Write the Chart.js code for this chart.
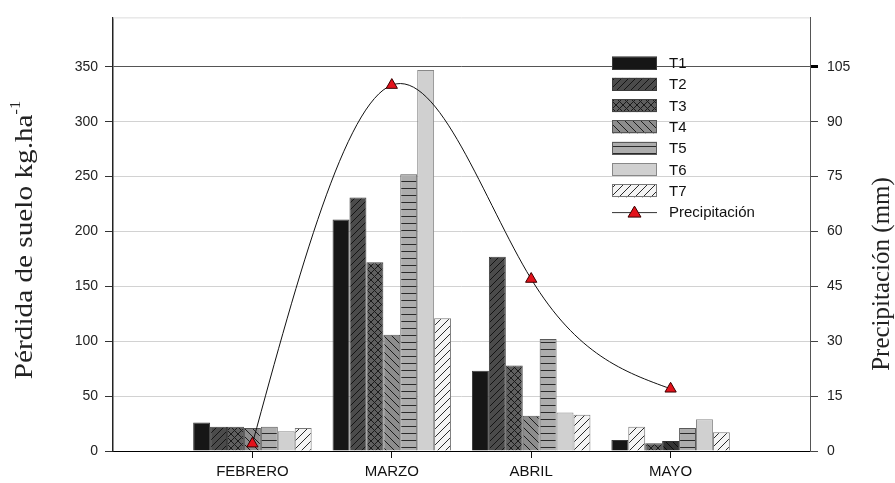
<!DOCTYPE html>
<html><head><meta charset="utf-8">
<script src="https://cdn.jsdelivr.net/npm/chart.js@4.4.1/dist/chart.umd.min.js"></script>
<style>html,body{margin:0;padding:0;background:#fff;}canvas{display:block;}</style>
</head><body>
<canvas id="c" width="895" height="483"></canvas>
<script>
// ---- data ----
const categories = ['', 'FEBRERO', 'MARZO', 'ABRIL', 'MAYO', ''];
const T1 = [null, 26, 211, 73, 10, null];
const T2 = [null, 22, 231, 177, 22, null];
const T3 = [null, 22, 172, 78, 7, null];
const T4 = [null, 21, 106, 32, 9, null];
const T5 = [null, 22, 252, 102, 21, null];
const T6 = [null, 18, 347, 35, 29, null];
const T7 = [null, 21, 121, 33, 17, null];
const precipitacion = [null, 2, 100, 47, 17, null];
const seriesNames = ['T1', 'T2', 'T3', 'T4', 'T5', 'T6', 'T7'];
const lineName = 'Precipitación';
const leftTicks = [0, 50, 100, 150, 200, 250, 300, 350];
const rightTicks = [0, 15, 30, 45, 60, 75, 90, 105];
const leftMax = 395, rightMax = 118.5;
const leftTitle = 'Pérdida de suelo kg.ha';
const leftTitleSup = '-1';
const rightTitle = 'Precipitación (mm)';

// ---- styles ----
const canvas = document.getElementById('c');
const ctx = canvas.getContext('2d');
function pattern(bg, kind, fg, s, lw) {
  const c = document.createElement('canvas'); c.width = s; c.height = s;
  const g = c.getContext('2d');
  g.fillStyle = bg; g.fillRect(0, 0, s, s);
  g.strokeStyle = fg; g.lineWidth = lw || 1;
  g.beginPath();
  if (kind === '/' || kind === 'x') {
    g.moveTo(-1, s + 1); g.lineTo(s + 1, -1);
    g.moveTo(-1, 1); g.lineTo(1, -1);
    g.moveTo(s - 1, s + 1); g.lineTo(s + 1, s - 1);
  }
  if (kind === '\\' || kind === 'x') {
    g.moveTo(-1, -1); g.lineTo(s + 1, s + 1);
    g.moveTo(s - 1, -1); g.lineTo(s + 1, 1);
    g.moveTo(-1, s - 1); g.lineTo(1, s + 1);
  }
  if (kind === '-') { g.moveTo(0, s - 0.5); g.lineTo(s, s - 0.5); }
  g.stroke();
  return ctx.createPattern(c, 'repeat');
}
const fills = [
  '#161616',
  pattern('#4b4b4b', '/', '#141414', 7),
  pattern('#5f5f5f', 'x', '#1a1a1a', 7),
  pattern('#8d8d8d', '\\', '#1c1c1c', 8),
  pattern('#adadad', '-', '#2a2a2a', 7),
  '#d0d0d0',
  pattern('#f4f4f4', '/', '#2a2a2a', 8)
];
const borders = ['#3a3a3a', '#3c3c3c', '#444', '#555', '#5a5a5a', '#888', '#777'];
const mayoOverride = { 1: [fills[6], borders[6]], 3: [pattern('#333', '\\', '#0c0c0c', 7), '#333'] };
const seriesData = [T1, T2, T3, T4, T5, T6, T7];

const datasets = seriesData.map((d, i) => ({
  type: 'bar', label: seriesNames[i], data: d, yAxisID: 'y', order: 1,
  backgroundColor: c => (c.dataIndex === 4 && mayoOverride[i]) ? mayoOverride[i][0] : fills[i],
  borderColor: c => (c.dataIndex === 4 && mayoOverride[i]) ? mayoOverride[i][1] : borders[i],
  borderWidth: 1, categoryPercentage: 0.85, barPercentage: 1.0
}));
const LINE_INDEX = datasets.length;
datasets.push({
  type: 'line', label: lineName, data: precipitacion, yAxisID: 'y1', order: 0,
  showLine: false, borderColor: '#111', borderWidth: 1,
  pointStyle: 'triangle', pointRadius: 6.5, pointBackgroundColor: '#e3121b',
  pointBorderColor: '#3a0000', pointBorderWidth: 1
});

// natural cubic spline through the point elements placed by Chart.js
const splinePlugin = {
  id: 'naturalSpline',
  beforeDatasetDraw(chart, args) {
    if (args.index !== LINE_INDEX) return;
    const meta = chart.getDatasetMeta(LINE_INDEX);
    const pts = meta.data.filter(p => !p.skip && Number.isFinite(p.y)).map(p => ({ x: p.x, y: p.y }));
    const n = pts.length; if (n < 2) return;
    const h = [], M = new Array(n).fill(0);
    for (let i = 0; i < n - 1; i++) h.push(pts[i + 1].x - pts[i].x);
    // tridiagonal system for interior second derivatives
    const a = [], b = [], c = [], d = [];
    for (let i = 1; i < n - 1; i++) {
      a.push(h[i - 1]); b.push(2 * (h[i - 1] + h[i])); c.push(h[i]);
      d.push(6 * ((pts[i + 1].y - pts[i].y) / h[i] - (pts[i].y - pts[i - 1].y) / h[i - 1]));
    }
    const m = d.length;
    for (let i = 1; i < m; i++) { const w = a[i] / b[i - 1]; b[i] -= w * c[i - 1]; d[i] -= w * d[i - 1]; }
    const sol = new Array(m);
    for (let i = m - 1; i >= 0; i--) sol[i] = (d[i] - (i < m - 1 ? c[i] * sol[i + 1] : 0)) / b[i];
    for (let i = 0; i < m; i++) M[i + 1] = sol[i];
    const slope = [];
    for (let i = 0; i < n - 1; i++) slope.push((pts[i + 1].y - pts[i].y) / h[i] - h[i] * (2 * M[i] + M[i + 1]) / 6);
    slope.push((pts[n - 1].y - pts[n - 2].y) / h[n - 2] + h[n - 2] * (M[n - 2] + 2 * M[n - 1]) / 6);
    const g = chart.ctx;
    g.save();
    g.strokeStyle = '#111'; g.lineWidth = 1;
    g.beginPath(); g.moveTo(pts[0].x, pts[0].y);
    for (let i = 0; i < n - 1; i++) {
      const hh = h[i] / 3;
      g.bezierCurveTo(pts[i].x + hh, pts[i].y + slope[i] * hh,
        pts[i + 1].x - hh, pts[i + 1].y - slope[i + 1] * hh,
        pts[i + 1].x, pts[i + 1].y);
    }
    g.stroke();
    g.restore();
  }
};

const SERIF = '"Liberation Serif", "Times New Roman", serif';
const decor = {
  id: 'decor',
  afterDraw(chart) {
    const g = chart.ctx, a = chart.chartArea;
    g.save();
    g.strokeStyle = '#dcdcdc'; g.lineWidth = 1;
    g.beginPath(); g.moveTo(a.left, a.top + 0.5); g.lineTo(a.right, a.top + 0.5); g.stroke();
    g.fillStyle = '#222';
    g.save();
    g.translate(24, 240); g.rotate(-Math.PI / 2); g.scale(1.17, 1);
    g.font = '25px ' + SERIF;
    const w1 = g.measureText(leftTitle).width;
    g.font = '14px ' + SERIF;
    const w2 = g.measureText(leftTitleSup).width;
    const x0 = -(w1 + w2) / 2;
    g.textBaseline = 'alphabetic'; g.textAlign = 'left';
    g.font = '25px ' + SERIF;
    g.fillText(leftTitle, x0, 8);
    g.font = '14px ' + SERIF;
    g.fillText(leftTitleSup, x0 + w1, -4);
    g.restore();
    g.save();
    g.translate(882, 274); g.rotate(-Math.PI / 2);
    g.font = '25px ' + SERIF;
    g.textAlign = 'center'; g.textBaseline = 'middle';
    g.fillText(rightTitle, 0, 0);
    g.restore();
    const lx = 612, lw = 45, lh = 13, tx = 669, y0 = 63, dy = 21.3;
    g.font = '15px "Liberation Sans", Arial, sans-serif';
    g.textBaseline = 'middle'; g.textAlign = 'left';
    for (let i = 0; i < seriesNames.length; i++) {
      const y = y0 + i * dy;
      g.fillStyle = fills[i];
      g.fillRect(lx, y - lh / 2, lw, lh);
      g.strokeStyle = borders[i]; g.lineWidth = 1;
      g.strokeRect(lx + 0.5, Math.round(y - lh / 2) + 0.5, lw - 1, lh - 1);
      g.fillStyle = '#111';
      g.fillText(seriesNames[i], tx, y + 1);
    }
    const yl = y0 + seriesNames.length * dy;
    g.strokeStyle = '#333'; g.lineWidth = 1;
    g.beginPath(); g.moveTo(lx, yl + 0.5); g.lineTo(lx + lw, yl + 0.5); g.stroke();
    const cx = lx + lw / 2;
    g.fillStyle = '#e3121b'; g.strokeStyle = '#3a0000';
    g.beginPath(); g.moveTo(cx, yl - 6); g.lineTo(cx + 6.5, yl + 5); g.lineTo(cx - 6.5, yl + 5); g.closePath();
    g.fill(); g.stroke();
    g.fillStyle = '#111';
    g.fillText(lineName, tx, yl + 1);
    g.restore();
  }
};

Chart.defaults.font.family = '"Liberation Sans", Arial, sans-serif';
Chart.defaults.font.size = 14;
Chart.defaults.color = '#222';

new Chart(ctx, {
  data: { labels: categories, datasets },
  options: {
    responsive: false, animation: false, devicePixelRatio: 1,
    layout: { padding: { top: 13, left: 0, right: 0, bottom: 0 } },
    plugins: { legend: { display: false }, tooltip: { enabled: false } },
    scales: {
      x: {
        type: 'category', offset: false,
        grid: { offset: false, drawOnChartArea: false, drawTicks: true, tickLength: 7,
          tickColor: c => (categories[c.index] ? '#111' : 'rgba(0,0,0,0)') },
        border: { color: '#000', width: 1 },
        ticks: { padding: 5, color: '#111', font: { size: 15 }, autoSkip: false, maxRotation: 0 },
        afterFit: s => { s.height = 32; }
      },
      y: {
        position: 'left', min: 0, max: leftMax,
        afterBuildTicks: s => { s.ticks = leftTicks.map(v => ({ value: v })); },
        grid: { color: c => (c.tick && c.tick.value === 350 ? '#555' : '#d2d2d2'),
          lineWidth: 1, tickColor: '#333', tickLength: 8 },
        border: { color: '#222', width: 1.5 },
        ticks: { padding: 7, color: '#222' },
        afterFit: s => { s.width = 113; }
      },
      y1: {
        position: 'right', min: 0, max: rightMax,
        afterBuildTicks: s => { s.ticks = rightTicks.map(v => ({ value: v })); },
        grid: { drawOnChartArea: false, tickColor: c => (c.tick && c.tick.value === 105 ? '#000' : '#444'),
          tickWidth: c => (c.tick && c.tick.value === 105 ? 3 : 1), tickLength: 8 },
        border: { color: '#555', width: 1 },
        ticks: { padding: 9, color: '#222' },
        afterFit: s => { s.width = 85; }
      }
    }
  },
  plugins: [splinePlugin, decor]
});
</script>
</body></html>
